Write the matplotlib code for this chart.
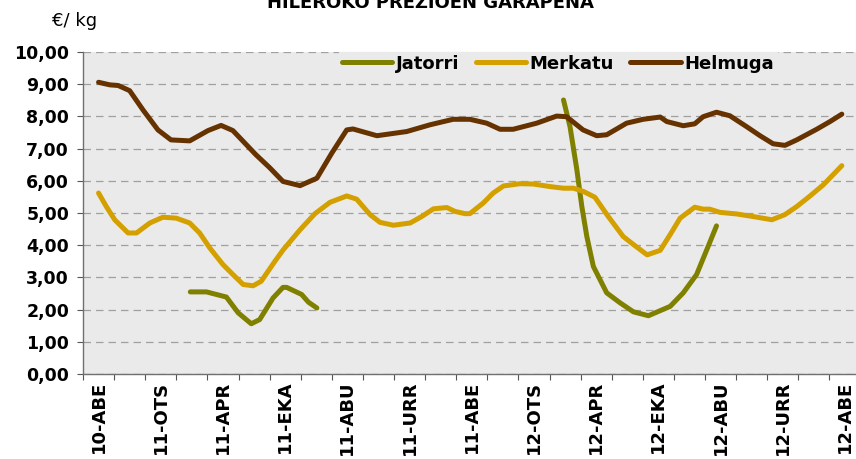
import numpy as np
import matplotlib
matplotlib.use("Agg")
import matplotlib.pyplot as plt

# ---- data (x = months since Dec-2010, fractional) ----
month_labels = ["10-ABE", "11-OTS", "11-APR", "11-EKA", "11-ABU", "11-URR", "11-ABE",
                "12-OTS", "12-APR", "12-EKA", "12-ABU", "12-URR", "12-ABE"]
n_months = 25

helmuga_x = [0.0, 0.36, 0.63, 1.0, 1.43, 1.91, 2.33, 2.93, 3.52, 3.94, 4.32, 5.06, 5.51, 5.93,
             6.48, 7.02, 7.50, 7.98, 8.18, 8.95, 9.91, 10.66, 11.40, 11.94, 12.48, 12.91, 13.33,
             14.09, 14.73, 15.05, 15.58, 16.02, 16.34, 16.98, 17.51, 18.06, 18.27, 18.80, 19.17,
             19.44, 19.87, 20.30, 20.84, 21.27, 21.69, 22.07, 22.45, 23.09, 23.52, 23.90]
helmuga_y = [9.06, 8.98, 8.96, 8.80, 8.20, 7.58, 7.27, 7.24, 7.56, 7.72, 7.56, 6.81, 6.40, 5.98,
             5.85, 6.08, 6.86, 7.58, 7.61, 7.40, 7.53, 7.74, 7.91, 7.91, 7.79, 7.60, 7.60,
             7.79, 8.01, 7.99, 7.58, 7.40, 7.43, 7.79, 7.91, 7.98, 7.84, 7.71, 7.77,
             7.99, 8.13, 8.02, 7.68, 7.40, 7.15, 7.10, 7.27, 7.60, 7.84, 8.07]

merkatu_x = [0.0, 0.25, 0.52, 0.95, 1.22, 1.65, 2.07, 2.50, 2.93, 3.25, 3.58, 4.0, 4.32, 4.65,
             4.97, 5.23, 5.67, 5.94, 6.48, 6.96, 7.44, 7.98, 8.30, 8.73, 9.05, 9.48, 10.02,
             10.39, 10.77, 11.20, 11.46, 11.78, 11.94, 12.37, 12.69, 13.02, 13.55, 13.98, 14.52,
             14.95, 15.27, 15.59, 15.96, 16.39, 16.87, 17.20, 17.64, 18.06, 18.38, 18.70, 19.17,
             19.44, 19.65, 19.98, 20.52, 21.05, 21.65, 22.07, 22.45, 22.88, 23.31, 23.90]
merkatu_y = [5.62, 5.20, 4.79, 4.38, 4.38, 4.69, 4.87, 4.84, 4.69, 4.38, 3.91, 3.40, 3.09, 2.78,
             2.74, 2.88, 3.50, 3.86, 4.48, 4.98, 5.33, 5.53, 5.43, 4.95, 4.71, 4.62, 4.69,
             4.89, 5.13, 5.17, 5.05, 4.98, 4.98, 5.31, 5.62, 5.84, 5.91, 5.90, 5.82,
             5.77, 5.77, 5.67, 5.49, 4.89, 4.27, 4.02, 3.70, 3.84, 4.33, 4.84, 5.18,
             5.12, 5.12, 5.02, 4.97, 4.89, 4.79, 4.95, 5.20, 5.53, 5.88, 6.47]

jatorri_x = [2.95, 3.47, 4.11, 4.49, 4.91, 5.18, 5.61, 5.93, 6.05, 6.53, 6.75, 7.02,
             np.nan,
             14.95, 15.16, 15.38, 15.54, 15.70, 15.91, 16.34, 16.77, 17.20, 17.68, 18.38,
             18.80, 19.23, 19.60, 19.87]
jatorri_y = [2.55, 2.55, 2.39, 1.90, 1.56, 1.69, 2.36, 2.69, 2.69, 2.47, 2.23, 2.05,
             np.nan,
             8.51, 7.68, 6.34, 5.20, 4.27, 3.34, 2.52, 2.21, 1.93, 1.81, 2.10,
             2.52, 3.09, 3.96, 4.60]

series_names = ["Jatorri", "Merkatu", "Helmuga"]
series_colors = ["#808000", "#D4A000", "#663300"]

# ---- figure ----
W, H = 856, 459
fig = plt.figure(figsize=(W / 100, H / 100), dpi=100)
ax = fig.add_axes([83 / W, 85 / H, 777.5 / W, 322 / H])
ax.set_facecolor("#EAEAEA")

lw = 3.6
for xs, ys, name, col in zip([jatorri_x, merkatu_x, helmuga_x],
                             [jatorri_y, merkatu_y, helmuga_y],
                             series_names, series_colors):
    ax.plot(xs, ys, color=col, lw=lw, label=name, solid_capstyle="round",
            solid_joinstyle="round", zorder=3)

ax.set_ylim(0, 10)
ax.set_xlim(-0.5, n_months - 0.5)

ax.set_yticks(np.arange(0, 11, 1))
ax.set_yticklabels([f"{v:.2f}".replace(".", ",") for v in np.arange(0, 11, 1)],
                   fontsize=12.5, fontweight="bold")
ax.yaxis.grid(True, color="#A0A0A0", lw=0.9, linestyle=(0, (6, 4)))
ax.set_axisbelow(True)

ax.set_xticks(np.arange(0, n_months, 2))
ax.set_xticklabels(month_labels, rotation=90, fontsize=13, fontweight="bold", va="top")
ax.set_xticks(np.arange(-0.5, n_months, 1), minor=True)
ax.tick_params(axis="x", which="major", length=0, pad=5)
ax.tick_params(axis="x", which="minor", length=4.5, width=0.8, color="#555555")
ax.tick_params(axis="y", length=4, width=0.8, color="#555555", pad=6)

for s in ["top", "right"]:
    ax.spines[s].set_visible(False)
for s in ["left", "bottom"]:
    ax.spines[s].set_color("#707070")
    ax.spines[s].set_linewidth(1.0)

leg = ax.legend(loc="upper left", bbox_to_anchor=((339 - 83) / 777.5, 1.0), ncol=3,
                frameon=True, facecolor="#EAEAEA", edgecolor="#EAEAEA", framealpha=1,
                fancybox=False, borderaxespad=0, borderpad=0.15, handlelength=2.8,
                handletextpad=0.2, columnspacing=0.9,
                prop={"size": 13, "weight": "bold"})
for line in leg.get_lines():
    line.set_linewidth(lw)

fig.text(52 / W, 1 - 21 / H, "€/ kg", fontsize=13, ha="left", va="center")
fig.text(430 / W, (H - 8.3) / H, "HILEROKO PREZIOEN GARAPENA", fontsize=13,
         fontweight="bold", ha="center", va="baseline")

fig.savefig("out.png", dpi=100)
